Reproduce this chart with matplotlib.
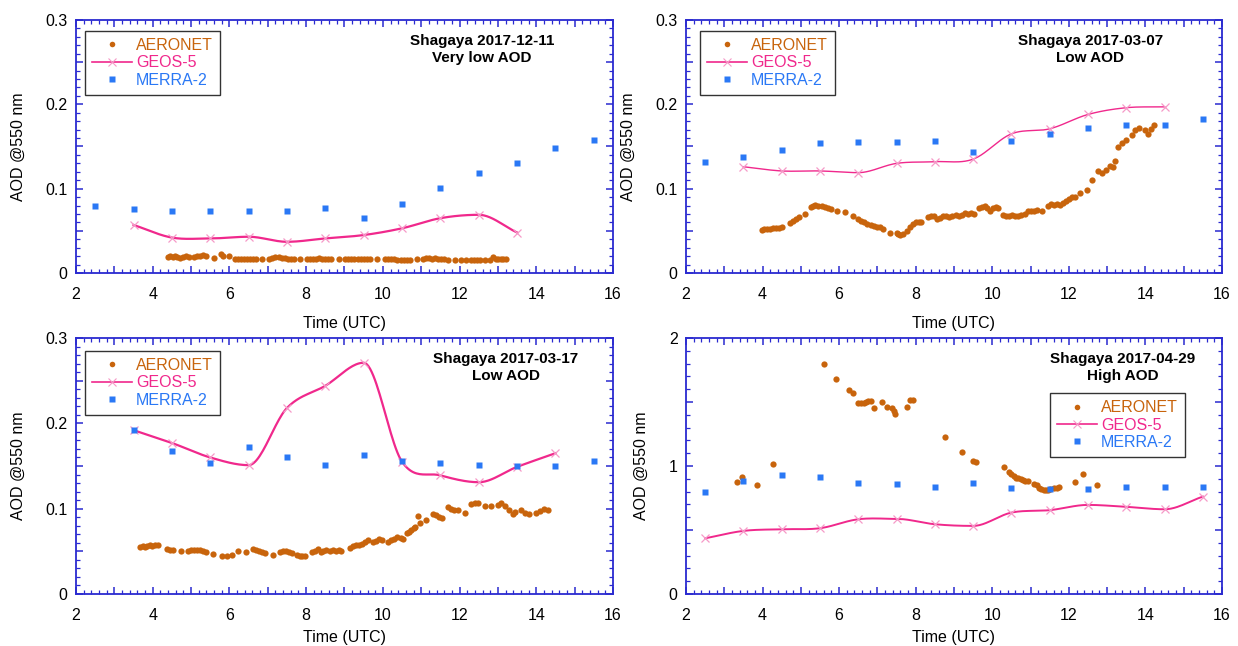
import numpy as np
import matplotlib
matplotlib.use('Agg')
import matplotlib.pyplot as plt
from matplotlib.ticker import MultipleLocator, FuncFormatter
from matplotlib.lines import Line2D

plt.rcParams['font.family'] = ['Liberation Sans', 'DejaVu Sans']

# model hours (MERRA-2 / GEOS-5 are hourly at :30)
hours_full = [2.5, 3.5, 4.5, 5.5, 6.5, 7.5, 8.5, 9.5, 10.5, 11.5, 12.5, 13.5, 14.5, 15.5]

# ---- panel 1 : 2017-12-11 ----
merra_1 = [0.079, 0.076, 0.073, 0.073, 0.073, 0.074, 0.077, 0.065, 0.082, 0.101, 0.118, 0.131, 0.148, 0.158]
geos_t_1 = [3.5, 4.5, 5.5, 6.5, 7.5, 8.5, 9.5, 10.5, 11.5, 12.5, 13.5]
geos_1 = [0.057, 0.042, 0.041, 0.043, 0.037, 0.041, 0.045, 0.053, 0.065, 0.069, 0.048]
aero_t_1 = [4.40, 4.46, 4.52, 4.58, 4.64, 4.72, 4.80, 4.88, 4.95, 5.08, 5.16, 5.24, 5.32, 5.40,
            5.60, 5.78, 5.84, 6.00, 6.14, 6.22, 6.30, 6.38, 6.46, 6.54, 6.62, 6.70, 6.86,
            7.04, 7.12, 7.20, 7.28, 7.36, 7.44, 7.52, 7.60, 7.68, 7.84, 8.02, 8.10, 8.18, 8.26,
            8.34, 8.42, 8.50, 8.58, 8.66, 8.86, 9.02, 9.10, 9.18, 9.26, 9.34, 9.42, 9.50, 9.58,
            9.66, 9.86, 10.06, 10.14, 10.22, 10.30, 10.38, 10.46, 10.54, 10.62, 10.72, 10.88,
            11.04, 11.12, 11.20, 11.28, 11.36, 11.44, 11.52, 11.60, 11.70, 11.88, 12.04, 12.18,
            12.30, 12.38, 12.46, 12.54, 12.66, 12.80, 12.88, 12.94, 13.00, 13.08, 13.14, 13.20]
aero_1 = [0.019, 0.020, 0.019, 0.020, 0.019, 0.018, 0.019, 0.020, 0.019, 0.019, 0.020, 0.020, 0.021, 0.020,
          0.018, 0.022, 0.020, 0.020, 0.017, 0.017, 0.017, 0.017, 0.017, 0.017, 0.017, 0.017, 0.017,
          0.017, 0.018, 0.019, 0.019, 0.018, 0.018, 0.017, 0.017, 0.017, 0.017, 0.017, 0.017, 0.017, 0.017,
          0.018, 0.017, 0.017, 0.017, 0.017, 0.017, 0.017, 0.017, 0.017, 0.017, 0.017, 0.017, 0.017, 0.017,
          0.017, 0.017, 0.017, 0.017, 0.017, 0.017, 0.016, 0.016, 0.016, 0.016, 0.016, 0.017,
          0.017, 0.018, 0.018, 0.017, 0.018, 0.017, 0.017, 0.017, 0.016, 0.016, 0.016, 0.016,
          0.016, 0.015, 0.016, 0.016, 0.016, 0.016, 0.019, 0.017, 0.017, 0.017, 0.017, 0.017]

# ---- panel 2 : 2017-03-07 ----
merra_2 = [0.132, 0.138, 0.146, 0.154, 0.155, 0.155, 0.157, 0.143, 0.156, 0.165, 0.172, 0.175, 0.176, 0.183]
geos_t_2 = [3.5, 4.5, 5.5, 6.5, 7.5, 8.5, 9.5, 10.5, 11.5, 12.5, 13.5, 14.5]
geos_2 = [0.126, 0.121, 0.121, 0.119, 0.130, 0.132, 0.135, 0.165, 0.171, 0.188, 0.196, 0.197]
aero_t_2 = [3.98, 4.05, 4.12, 4.20, 4.28, 4.36, 4.44, 4.52, 4.72, 4.80, 4.88, 4.94, 5.11,
            5.26, 5.32, 5.38, 5.44, 5.55, 5.62, 5.70, 5.78, 5.95, 6.15, 6.35, 6.50, 6.58,
            6.66, 6.74, 6.82, 6.90, 6.98, 7.06, 7.15, 7.33, 7.50, 7.55, 7.60, 7.66, 7.76,
            7.84, 7.92, 8.00, 8.08, 8.15, 8.32, 8.40, 8.48, 8.56, 8.64, 8.72, 8.80, 8.88,
            8.96, 9.04, 9.12, 9.20, 9.28, 9.36, 9.44, 9.52, 9.64, 9.72, 9.80, 9.86, 9.94,
            10.02, 10.10, 10.16, 10.29, 10.36, 10.44, 10.52, 10.60, 10.68, 10.76, 10.85,
            10.92, 11.00, 11.08, 11.16, 11.29, 11.46, 11.54, 11.62, 11.70, 11.78, 11.85,
            11.92, 12.00, 12.08, 12.16, 12.29, 12.48, 12.60, 12.76, 12.86, 12.97, 13.07,
            13.14, 13.20, 13.28, 13.38, 13.48, 13.64, 13.74, 13.84, 14.00, 14.08, 14.15, 14.22]
aero_2 = [0.051, 0.052, 0.052, 0.052, 0.053, 0.053, 0.053, 0.054, 0.059, 0.062, 0.064, 0.066, 0.070,
          0.078, 0.080, 0.081, 0.080, 0.079, 0.078, 0.077, 0.076, 0.074, 0.072, 0.068, 0.064, 0.062,
          0.060, 0.058, 0.057, 0.056, 0.055, 0.054, 0.052, 0.048, 0.048, 0.046, 0.045, 0.046, 0.050,
          0.054, 0.058, 0.060, 0.060, 0.060, 0.066, 0.068, 0.067, 0.064, 0.065, 0.067, 0.068, 0.066,
          0.068, 0.069, 0.068, 0.069, 0.071, 0.070, 0.071, 0.070, 0.077, 0.078, 0.079, 0.077, 0.074,
          0.077, 0.078, 0.077, 0.069, 0.068, 0.068, 0.069, 0.068, 0.068, 0.069, 0.070,
          0.073, 0.074, 0.073, 0.075, 0.074, 0.080, 0.082, 0.081, 0.082, 0.081, 0.083,
          0.085, 0.088, 0.090, 0.090, 0.095, 0.098, 0.110, 0.121, 0.119, 0.122, 0.127,
          0.126, 0.133, 0.150, 0.154, 0.158, 0.164, 0.170, 0.172, 0.169, 0.165, 0.171, 0.175]

# ---- panel 3 : 2017-03-17 ----
merra_t_3 = [3.5, 4.5, 5.5, 6.5, 7.5, 8.5, 9.5, 10.5, 11.5, 12.5, 13.5, 14.5, 15.5]
merra_3 = [0.192, 0.168, 0.153, 0.172, 0.160, 0.151, 0.163, 0.156, 0.153, 0.151, 0.150, 0.150, 0.156]
geos_t_3 = [3.5, 4.5, 5.5, 6.5, 7.5, 8.5, 9.5, 10.5, 11.5, 12.5, 13.5, 14.5]
geos_3 = [0.192, 0.177, 0.160, 0.151, 0.218, 0.244, 0.271, 0.155, 0.139, 0.131, 0.149, 0.165]
aero_t_3 = [3.68, 3.74, 3.80, 3.86, 3.92, 3.98, 4.06, 4.14, 4.36, 4.44, 4.54, 4.74, 4.93, 5.00,
            5.08, 5.16, 5.24, 5.32, 5.40, 5.58, 5.80, 5.93, 6.08, 6.23, 6.43, 6.62, 6.68, 6.76,
            6.84, 6.92, 7.14, 7.32, 7.40, 7.48, 7.56, 7.64, 7.75, 7.83, 7.90, 7.97, 8.14, 8.22,
            8.32, 8.38, 8.45, 8.53, 8.62, 8.70, 8.78, 8.85, 8.92, 9.14, 9.22, 9.30, 9.38, 9.46,
            9.54, 9.62, 9.75, 9.82, 9.90, 9.97, 10.14, 10.22, 10.30, 10.38, 10.46, 10.53, 10.62,
            10.68, 10.74, 10.80, 10.84, 10.92, 10.97, 11.12, 11.31, 11.38, 11.46, 11.53, 11.70,
            11.78, 11.86, 11.97, 12.14, 12.31, 12.40, 12.49, 12.66, 12.83, 13.00, 13.09, 13.19,
            13.30, 13.40, 13.45, 13.60, 13.70, 13.80, 14.00, 14.10, 14.20, 14.30]
aero_3 = [0.055, 0.056, 0.055, 0.056, 0.057, 0.056, 0.057, 0.057, 0.053, 0.052, 0.052, 0.050, 0.050, 0.051,
          0.052, 0.052, 0.051, 0.050, 0.049, 0.047, 0.045, 0.045, 0.046, 0.050, 0.049, 0.053, 0.052, 0.050,
          0.049, 0.048, 0.046, 0.049, 0.050, 0.050, 0.049, 0.048, 0.046, 0.045, 0.044, 0.045, 0.049, 0.050,
          0.053, 0.049, 0.050, 0.051, 0.050, 0.051, 0.050, 0.051, 0.050, 0.054, 0.056, 0.057, 0.058, 0.059,
          0.061, 0.063, 0.061, 0.062, 0.064, 0.063, 0.061, 0.063, 0.065, 0.067, 0.066, 0.064, 0.071,
          0.073, 0.075, 0.077, 0.079, 0.091, 0.083, 0.087, 0.094, 0.092, 0.090, 0.089, 0.102,
          0.100, 0.099, 0.098, 0.095, 0.106, 0.107, 0.107, 0.103, 0.103, 0.104, 0.107, 0.103,
          0.099, 0.094, 0.096, 0.098, 0.095, 0.094, 0.095, 0.097, 0.100, 0.098]

# ---- panel 4 : 2017-04-29 ----
merra_4 = [0.798, 0.879, 0.926, 0.913, 0.871, 0.861, 0.837, 0.866, 0.832, 0.821, 0.824, 0.837, 0.837, 0.834]
geos_4 = [0.435, 0.493, 0.506, 0.514, 0.584, 0.587, 0.545, 0.532, 0.636, 0.655, 0.696, 0.681, 0.662, 0.761]
aero_t_4 = [3.34, 3.45, 3.86, 4.26, 5.60, 5.91, 6.26, 6.37, 6.50, 6.57, 6.64, 6.70, 6.76, 6.82,
            6.91, 7.11, 7.26, 7.37, 7.42, 7.47, 7.76, 7.85, 7.93, 8.76, 9.21, 9.50, 9.57,
            10.30, 10.44, 10.50, 10.56, 10.62, 10.68, 10.74, 10.80, 10.86, 10.92, 11.10, 11.16,
            11.22, 11.28, 11.34, 11.40, 11.46, 11.52, 11.60, 11.68, 11.74, 12.16, 12.37, 12.74]
aero_4 = [0.878, 0.912, 0.852, 1.016, 1.797, 1.680, 1.594, 1.568, 1.490, 1.490, 1.490, 1.500, 1.510, 1.510,
          1.456, 1.503, 1.464, 1.451, 1.430, 1.410, 1.458, 1.516, 1.516, 1.229, 1.112, 1.042, 1.030,
          0.995, 0.955, 0.935, 0.920, 0.910, 0.905, 0.900, 0.890, 0.885, 0.885, 0.860, 0.850,
          0.830, 0.820, 0.815, 0.815, 0.815, 0.820, 0.825, 0.830, 0.835, 0.874, 0.939, 0.853]

titles = ['Shagaya 2017-12-11\nVery low AOD', 'Shagaya 2017-03-07\nLow AOD',
          'Shagaya 2017-03-17\nLow AOD', 'Shagaya 2017-04-29\nHigh AOD']

C_AERO = '#c8640c'
C_GEOS = '#f0288c'
C_MERRA = '#2a78f5'
C_AXIS = '#2a2ad0'


def smooth(x, y, n=25):
    # cubic hermite, central-difference tangents, flat at local extrema
    x = np.asarray(x, float)
    y = np.asarray(y, float)
    m = np.gradient(y, x)
    for k in range(1, len(x) - 1):
        if (y[k] - y[k - 1]) * (y[k + 1] - y[k]) < 0:
            m[k] = 0.0
    xs, ys = [], []
    s = np.linspace(0, 1, n)
    for i in range(len(x) - 1):
        h = x[i + 1] - x[i]
        h00 = 2 * s**3 - 3 * s**2 + 1
        h10 = s**3 - 2 * s**2 + s
        h01 = -2 * s**3 + 3 * s**2
        h11 = s**3 - s**2
        xs.append(x[i] + s * h)
        ys.append(h00 * y[i] + h10 * h * m[i] + h01 * y[i + 1] + h11 * h * m[i + 1])
    return np.concatenate(xs), np.concatenate(ys)


def setup(ax, ymax, xpad):
    ax.set_xlim(2, 16)
    ax.set_ylim(0, ymax)
    ax.xaxis.set_major_locator(MultipleLocator(1))
    ax.xaxis.set_minor_locator(MultipleLocator(0.2))
    ax.xaxis.set_major_formatter(FuncFormatter(lambda v, p: '%g' % v if round(v) % 2 == 0 else ''))
    if ymax < 1:
        ax.yaxis.set_major_locator(MultipleLocator(0.05))
        ax.yaxis.set_minor_locator(MultipleLocator(0.01))
        ax.yaxis.set_major_formatter(FuncFormatter(
            lambda v, p: '%g' % round(v, 2) if abs(v * 10 - round(v * 10)) < 1e-6 else ''))
    else:
        ax.yaxis.set_major_locator(MultipleLocator(0.5))
        ax.yaxis.set_minor_locator(MultipleLocator(0.1))
        ax.yaxis.set_major_formatter(FuncFormatter(
            lambda v, p: '%g' % v if abs(v - round(v)) < 1e-6 else ''))
    for sp in ax.spines.values():
        sp.set_color(C_AXIS)
        sp.set_linewidth(1.3)
    ax.tick_params(which='both', direction='in', top=True, right=True,
                   color=C_AXIS, labelsize=11.5, labelcolor='black')
    ax.tick_params(which='major', length=5, width=1.1)
    ax.tick_params(which='minor', length=3, width=0.9)
    ax.tick_params(axis='x', which='major', pad=10)
    ax.tick_params(axis='y', which='major', pad=6)
    ax.set_xlabel('Time (UTC)', fontsize=11.5, labelpad=xpad)
    ax.set_ylabel('AOD @550 nm', fontsize=11.5, labelpad=14)


fig = plt.figure(figsize=(12.38, 6.46), dpi=100)
W, H = 1238, 646
boxes = [(76, 20, 613, 273), (686, 20, 1222, 273), (76, 338, 613, 594), (686, 338, 1222, 594)]
axes = []
for (l, t, r, b) in boxes:
    axes.append(fig.add_axes([l / W, 1 - b / H, (r - l) / W, (b - t) / H]))

panels = [
    (hours_full, merra_1, geos_t_1, geos_1, aero_t_1, aero_1, 0.3, 1.6),
    (hours_full, merra_2, geos_t_2, geos_2, aero_t_2, aero_2, 0.3, 1.0),
    (merra_t_3, merra_3, geos_t_3, geos_3, aero_t_3, aero_3, 0.3, 1.6),
    (hours_full, merra_4, hours_full, geos_4, aero_t_4, aero_4, 2.0, 1.4),
]
title_pos = [(0.756, 0.945), (0.754, 0.945), (0.80, 0.945), (0.815, 0.945)]
leg_pos = [(0.017, 0.957), (0.026, 0.957), (0.017, 0.95), (0.679, 0.785)]
xlabel_pad = [10, 10, 5, 5]

for i, ax in enumerate(axes):
    mt, mv, gt, gv, at, av, ymax, lw = panels[i]
    setup(ax, ymax, xlabel_pad[i])
    ax.plot(at, av, 'o', color=C_AERO, ms=4.5, mec='none', zorder=3)
    sx, sy = smooth(gt, gv)
    ax.plot(sx, sy, '-', color=C_GEOS, lw=lw, zorder=2)
    ax.plot(gt, gv, 'x', color='#f59ac8', ms=6, mew=0.9, zorder=2)
    ax.plot(mt, mv, 's', color=C_MERRA, ms=4.8, mec='none', zorder=4)
    ax.text(title_pos[i][0], title_pos[i][1], titles[i], transform=ax.transAxes,
            ha='center', va='top', fontsize=11, fontweight='bold', linespacing=1.25)
    handles = [Line2D([], [], ls='none', marker='o', color=C_AERO, ms=4, mec='none'),
               Line2D([], [], ls='-', marker='x', color=C_GEOS, lw=1.2, ms=6, mew=0.8,
                      mec='#f59ac8'),
               Line2D([], [], ls='none', marker='s', color=C_MERRA, ms=4.5, mec='none')]
    leg = ax.legend(handles, ['AERONET', 'GEOS-5', 'MERRA-2'], loc='upper left',
                    bbox_to_anchor=leg_pos[i], borderaxespad=0, fontsize=11.5,
                    frameon=True, fancybox=False, edgecolor='black', handlelength=2.5,
                    handletextpad=0.25, labelspacing=0.15, borderpad=0.45)
    leg.get_frame().set_linewidth(1.0)
    for txt, c in zip(leg.get_texts(), [C_AERO, C_GEOS, C_MERRA]):
        txt.set_color(c)

fig.savefig('out.png', dpi=100)
